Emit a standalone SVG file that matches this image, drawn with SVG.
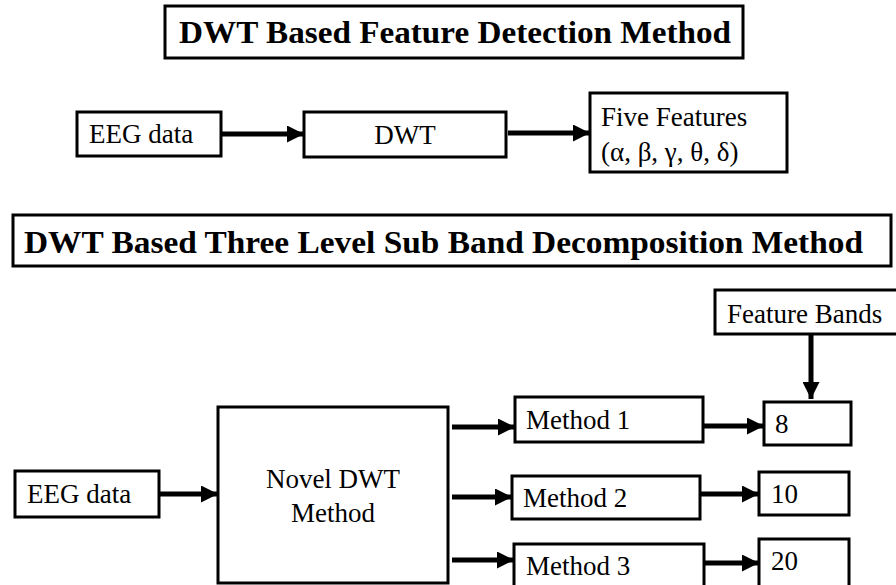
<svg xmlns="http://www.w3.org/2000/svg" width="896" height="585" viewBox="0 0 896 585">
<style>
.box{fill:#fff;stroke:#000;stroke-width:3}
.t{font-family:"Liberation Serif","Times New Roman",serif;font-size:27px;fill:#000}
.title{font-family:"Liberation Serif","Times New Roman",serif;font-size:32px;font-weight:bold;fill:#000}
.arr{stroke:#000;stroke-width:5;fill:none;marker-end:url(#ah)}
</style>
<defs>
<marker id="ah" markerUnits="userSpaceOnUse" markerWidth="17" markerHeight="17" refX="17" refY="8.5" orient="auto">
<path d="M0,0 L17,8.5 L0,17 z" fill="#000"/>
</marker>
</defs>
<rect width="896" height="585" fill="#fff"/>
<g id="title1">
<rect class="box" x="165" y="6" width="578" height="52"/>
<text class="title" x="179" y="43" textLength="552" lengthAdjust="spacingAndGlyphs">DWT Based Feature Detection Method</text>
</g>
<g id="eeg1">
<rect class="box" x="77" y="112" width="144" height="44"/>
<text class="t" x="89" y="143">EEG data</text>
</g>
<g id="dwt">
<rect class="box" x="304" y="112" width="202" height="45"/>
<text class="t" x="405" y="144" text-anchor="middle">DWT</text>
</g>
<g id="five">
<rect class="box" x="590" y="93" width="197" height="79"/>
<text class="t" x="601" y="126">Five Features</text>
<text class="t" x="601" y="161">(α, β, γ, θ, δ)</text>
</g>
<g id="title2">
<rect class="box" x="13" y="215" width="878" height="51"/>
<text class="title" x="24" y="253" textLength="839" lengthAdjust="spacingAndGlyphs">DWT Based Three Level Sub Band Decomposition Method</text>
</g>
<g id="featurebands">
<rect class="box" x="715" y="290" width="183" height="44"/>
<text class="t" x="727" y="323">Feature Bands</text>
</g>
<g id="eeg2">
<rect class="box" x="15" y="471" width="144" height="46"/>
<text class="t" x="27" y="503">EEG data</text>
</g>
<g id="novel">
<rect class="box" x="218" y="407" width="230" height="176"/>
<text class="t" x="333" y="488" text-anchor="middle">Novel DWT</text>
<text class="t" x="333" y="522" text-anchor="middle">Method</text>
</g>
<g id="m1">
<rect class="box" x="515" y="397" width="188" height="45"/>
<text class="t" x="526" y="429">Method 1</text>
</g>
<g id="m2">
<rect class="box" x="512" y="476" width="188" height="43"/>
<text class="t" x="523" y="507">Method 2</text>
</g>
<g id="m3">
<rect class="box" x="514" y="544" width="190" height="50"/>
<text class="t" x="526" y="575">Method 3</text>
</g>
<g id="b8">
<rect class="box" x="764" y="402" width="87" height="43"/>
<text class="t" x="775" y="433">8</text>
</g>
<g id="b10">
<rect class="box" x="759" y="472" width="90" height="43"/>
<text class="t" x="771" y="503">10</text>
</g>
<g id="b20">
<rect class="box" x="759" y="539" width="90" height="55"/>
<text class="t" x="771" y="570">20</text>
</g>
<g id="connectors">
<line class="arr" x1="222" y1="134" x2="304" y2="134"/>
<line class="arr" x1="508" y1="133" x2="590" y2="133"/>
<line class="arr" x1="811" y1="335" x2="811" y2="399"/>
<line class="arr" x1="159" y1="494" x2="218" y2="494"/>
<line class="arr" x1="452" y1="427" x2="515" y2="427"/>
<line class="arr" x1="452" y1="497" x2="512" y2="497"/>
<line class="arr" x1="452" y1="560" x2="514" y2="560"/>
<line class="arr" x1="703" y1="426" x2="764" y2="426"/>
<line class="arr" x1="700" y1="494" x2="759" y2="494"/>
<line class="arr" x1="704" y1="563" x2="759" y2="563"/>
</g>
</svg>
